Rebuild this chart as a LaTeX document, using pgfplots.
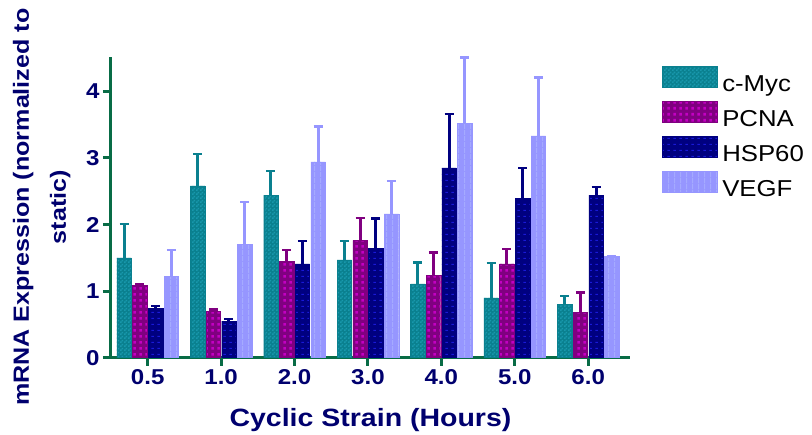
\documentclass[border=0pt]{standalone}
\usepackage{pgfplots}
\pgfplotsset{compat=1.18}
\usepackage{pgfplotstable}
\usetikzlibrary{patterns}
\usepackage{fontspec}
\setmainfont{Liberation Sans}
\newfontfamily\tickfont[FakeStretch=1.12]{Liberation Sans}
\newfontfamily\labfont[FakeStretch=1.14]{Liberation Sans}
\newfontfamily\legfont[FakeStretch=1.12]{Liberation Sans}
\definecolor{cmyc}{RGB}{10,128,143}
\definecolor{cmycl}{RGB}{25,152,172}
\definecolor{pcna}{RGB}{128,0,128}
\definecolor{pcnal}{RGB}{195,0,195}
\definecolor{hsp}{RGB}{0,0,128}
\definecolor{hspl}{RGB}{25,25,215}
\definecolor{vegf}{RGB}{150,150,255}
\definecolor{vegfl}{RGB}{165,170,255}
\definecolor{axgreen}{RGB}{8,108,70}
\definecolor{txt}{RGB}{0,0,110}
\pgfdeclarepatternformonly{smallchk}{\pgfpointorigin}{\pgfpoint{4pt}{4pt}}{\pgfpoint{4pt}{4pt}}{%
  \pgfpathrectangle{\pgfpointorigin}{\pgfpoint{2pt}{2pt}}%
  \pgfpathrectangle{\pgfpoint{2pt}{2pt}}{\pgfpoint{2pt}{2pt}}\pgfusepath{fill}}
\pgfdeclarepatternformonly{sqdots}{\pgfpointorigin}{\pgfpoint{6pt}{6pt}}{\pgfpoint{6pt}{6pt}}{%
  \pgfpathrectangle{\pgfpoint{1.5pt}{1.5pt}}{\pgfpoint{3pt}{3pt}}\pgfusepath{fill}}
\pgfdeclarepatternformonly{hdash}{\pgfpointorigin}{\pgfpoint{6pt}{6pt}}{\pgfpoint{6pt}{6pt}}{%
  \pgfpathrectangle{\pgfpoint{1.5pt}{2.5pt}}{\pgfpoint{3pt}{1pt}}\pgfusepath{fill}}
\pgfdeclarepatternformonly{vthin}{\pgfpointorigin}{\pgfpoint{6pt}{6pt}}{\pgfpoint{6pt}{6pt}}{%
  \pgfpathrectangle{\pgfpoint{2.5pt}{0pt}}{\pgfpoint{1pt}{6pt}}\pgfusepath{fill}}
\pgfplotstableread{
x cmyc cmycE pcna pcnaE hsp hspE vegf vegfE
0 1.50 0.51 1.09 0.01 0.74 0.04 1.22 0.40
1 2.58 0.48 0.70 0.02 0.55 0.03 1.70 0.64
2 2.44 0.36 1.45 0.17 1.41 0.34 2.94 0.53
3 1.47 0.28 1.76 0.34 1.64 0.45 2.16 0.49
4 1.11 0.32 1.24 0.34 2.85 0.81 3.52 0.99
5 0.90 0.52 1.41 0.22 2.39 0.46 3.33 0.88
6 0.80 0.13 0.68 0.30 2.44 0.12 1.52 0.00
}\data
\begin{document}
\begin{tikzpicture}
\path[use as bounding box] (-111pt,-77.3pt) rectangle (701pt,357.7pt);
\begin{axis}[
  scale only axis, width=519pt, height=301pt,
  xmin=-0.5, xmax=6.57, ymin=0, ymax=4.52,
  axis lines=left,
  axis line style={-, line width=3pt, axgreen},
  xtick={0,...,6}, xticklabels={0.5,1.0,2.0,3.0,4.0,5.0,6.0},
  ytick={0,1,2,3,4},
  tick align=outside, major tick length=8pt,
  tick style={axgreen, line width=3pt},
  /pgf/number format/assume math mode=true,
  ticklabel style={font=\fontsize{21.5}{24}\selectfont\tickfont\bfseries, color=txt},
  xlabel={Cyclic Strain (Hours)},
  xlabel style={at={(axis description cs:0.5,-0.2292)}, anchor=base, font=\fontsize{25}{28}\selectfont\labfont\bfseries, color=txt},
  ylabel={mRNA Expression (normalized to\\static)},
  ylabel style={at={(axis description cs:-0.1335,0.5)}, anchor=center, rotate=0, align=center, font=\fontsize{22}{37}\selectfont\labfont\bfseries, color=txt},
  ybar=1.2pt, bar width=14.5pt,
  legend style={at={(axis description cs:1.061,0.97)}, anchor=north west, draw=none, fill=none, inner sep=0pt, row sep=4.6pt, column sep=5pt, font=\fontsize{23}{26}\selectfont\legfont, text=black, nodes={inner sep=0pt, text height=16.5pt, text depth=4.5pt}},
  legend cell align=left,
  legend image code/.code={\draw[#1] (0pt,-1.3pt) rectangle (55pt,19.7pt);},
]
\addplot[fill=cmyc, draw=cmyc, postaction={pattern=smallchk, pattern color=cmycl},
  error bars/.cd, y dir=plus, y explicit,
  error bar style={line width=3pt, cmyc, solid},
  error mark options={rotate=90, mark size=4.5pt, line width=2.5pt, cmyc}]
  table[x=x, y=cmyc, y error=cmycE] {\data};
\addplot[fill=pcna, draw=pcna, postaction={pattern=sqdots, pattern color=pcnal},
  error bars/.cd, y dir=plus, y explicit,
  error bar style={line width=3pt, pcna, solid},
  error mark options={rotate=90, mark size=4.5pt, line width=2.5pt, pcna}]
  table[x=x, y=pcna, y error=pcnaE] {\data};
\addplot[fill=hsp, draw=hsp, postaction={pattern=hdash, pattern color=hspl},
  error bars/.cd, y dir=plus, y explicit,
  error bar style={line width=3pt, hsp, solid},
  error mark options={rotate=90, mark size=4.5pt, line width=2.5pt, hsp}]
  table[x=x, y=hsp, y error=hspE] {\data};
\addplot[fill=vegf, draw=vegf, postaction={pattern=vthin, pattern color=vegfl},
  error bars/.cd, y dir=plus, y explicit,
  error bar style={line width=3pt, vegf, solid},
  error mark options={rotate=90, mark size=4.5pt, line width=2.5pt, vegf}]
  table[x=x, y=vegf, y error=vegfE] {\data};
\legend{c-Myc,PCNA,HSP60,VEGF}
\end{axis}
\end{tikzpicture}
\end{document}
